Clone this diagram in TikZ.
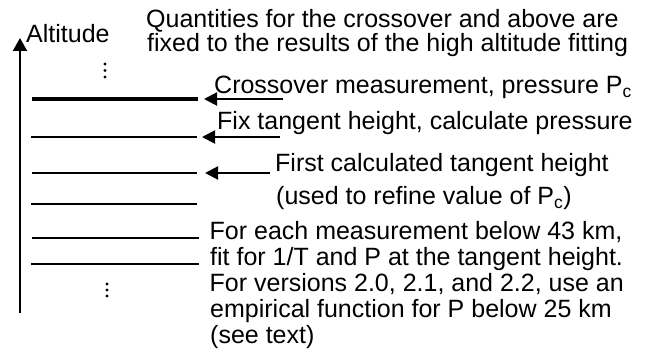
\documentclass[tikz,border=0pt]{standalone}
\usepackage{fontspec}
\setmainfont{Liberation Sans}
\usetikzlibrary{arrows.meta}
\begin{document}
\begin{tikzpicture}[x=1pt,y=-1pt,
  font=\fontsize{25}{26}\selectfont,
  lbl/.style={anchor=base west, inner sep=0pt},
  levelline/.style={line width=2pt},
  crossline/.style={line width=4pt},
  pointer/.style={line width=2pt, -{Triangle[length=13pt,width=13pt]}},
  axisline/.style={line width=2pt, -{Triangle[length=13pt,width=14pt]}},
  dotmark/.style={fill=black, circle, inner sep=0pt, minimum size=3.4pt}]
\useasboundingbox (0,0) rectangle (649,363);

% altitude axis
\coordinate (axbot) at (20,313);
\coordinate (axtop) at (20,38);
\draw[axisline] (axbot) -- (axtop);
\node[lbl] (alt) at (26,43) {Altitude};

% dots
\node[dotmark] (d1) at (105,64) {};
\node[dotmark] (d2) at (105,70.5) {};
\node[dotmark] (d3) at (105,77) {};
\node[dotmark] (d4) at (107,284) {};
\node[dotmark] (d5) at (107,290) {};
\node[dotmark] (d6) at (107,296) {};

% level lines
\coordinate (L1w) at (32,99);  \coordinate (L1e) at (198,99);
\coordinate (L2w) at (31,137); \coordinate (L2e) at (197,137);
\coordinate (L3w) at (32,173); \coordinate (L3e) at (197,173);
\coordinate (L4w) at (31,204); \coordinate (L4e) at (197,204);
\coordinate (L5w) at (32,238); \coordinate (L5e) at (199,238);
\coordinate (L6w) at (31,264); \coordinate (L6e) at (199,264);
\draw[crossline] (L1w) -- (L1e);
\draw[levelline] (L2w) -- (L2e);
\draw[levelline] (L3w) -- (L3e);
\draw[levelline] (L4w) -- (L4e);
\draw[levelline] (L5w) -- (L5e);
\draw[levelline] (L6w) -- (L6e);

% pointer arrows
\coordinate (A1t) at (283,99);  \coordinate (A1h) at (204,99);
\coordinate (A2t) at (280,137); \coordinate (A2h) at (202,137);
\coordinate (A3t) at (270,173); \coordinate (A3h) at (205,173);
\draw[pointer] (A1t) -- (A1h);
\draw[pointer] (A2t) -- (A2h);
\draw[pointer] (A3t) -- (A3h);

% texts
\node[lbl] (q1) at (146,28) {Quantities for the crossover and above are};
\node[lbl] (q2) at (147,52) {fixed to the results of the high altitude fitting};
\node[lbl] (cr) at (214,94) {Crossover measurement, pressure P\textsubscript{c}};
\node[lbl] (fx) at (217,130) {Fix tangent height, calculate pressure};
\node[lbl] (f1) at (275,172) {First calculated tangent height};
\node[lbl] (f2) at (276,205) {(used to refine value of P\textsubscript{c})};
\node[lbl] (m1) at (209.5,240) {For each measurement below 43 km,};
\node[lbl] (m2) at (210,266) {fit for 1/T and P at the tangent height.};
\node[lbl] (m3) at (209.5,292) {For versions 2.0, 2.1, and 2.2, use an};
\node[lbl] (m4) at (210,318) {empirical function for P below 25 km};
\node[lbl] (m5) at (210,344) {(see text)};
\end{tikzpicture}
\end{document}
